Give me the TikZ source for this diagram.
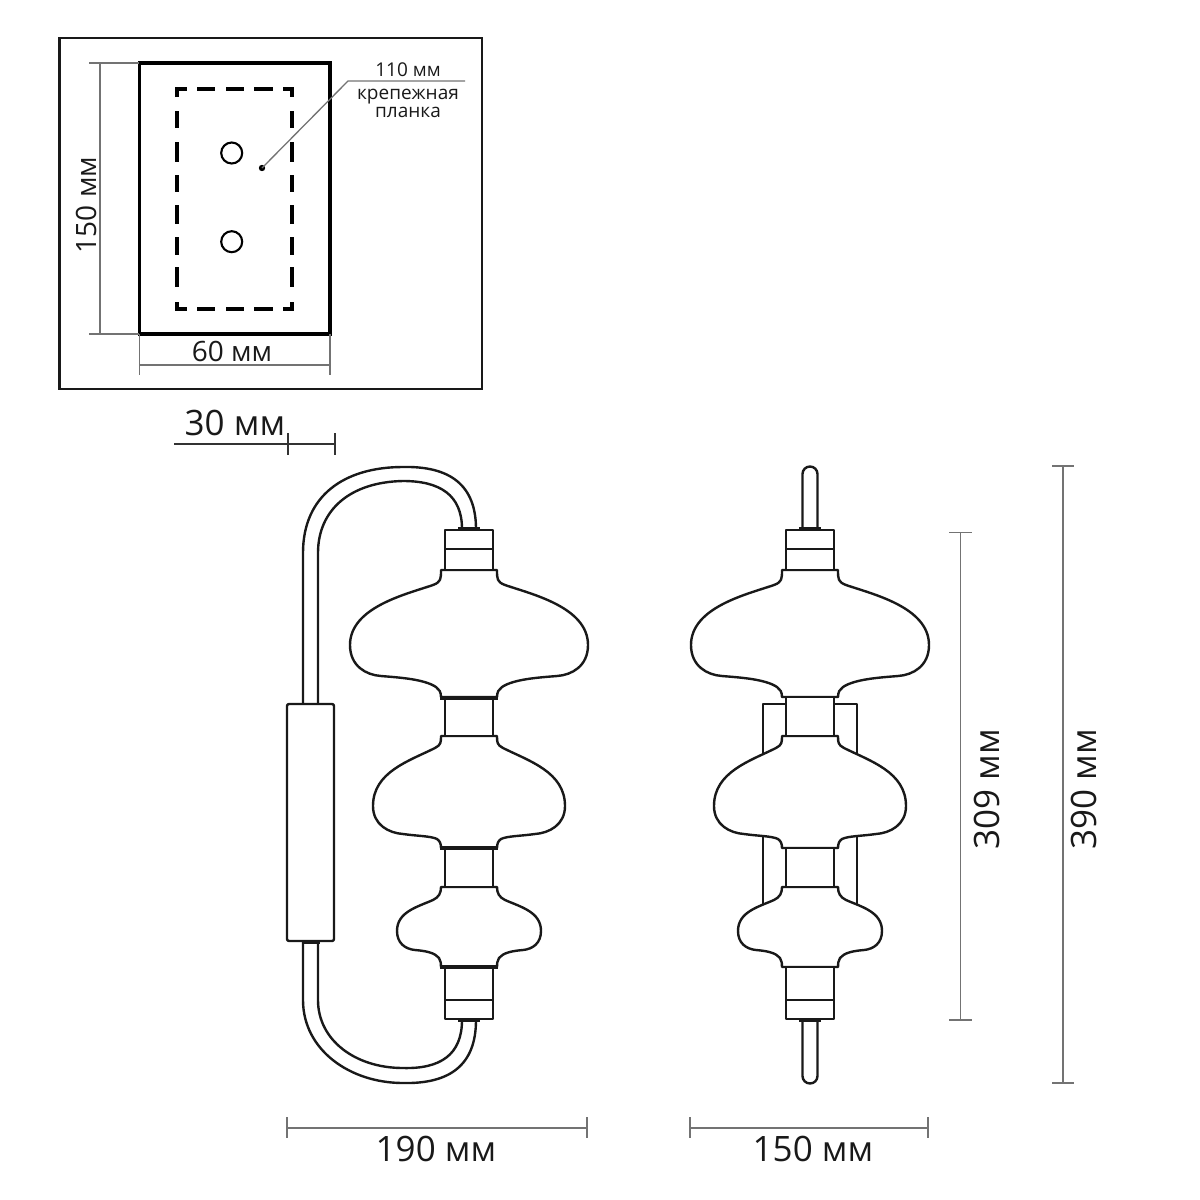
\documentclass[tikz,border=0pt]{standalone}
\usepackage{fontspec}
\setmainfont{Open Sans}
\tikzset{
  ink/.style={line width=2.4pt,draw=black!90,line join=round},
  heavy/.style={line width=4pt,draw=black!90},
  dimline/.style={line width=1.3pt,draw=black!55},
  dimtext/.style={inner sep=0pt,font=\fontsize{35}{35}\selectfont,text=black!90},
  smalltext/.style={inner sep=0pt,font=\fontsize{19}{19}\selectfont,text=black!90},
  midtext/.style={inner sep=0pt,font=\fontsize{28}{28}\selectfont,text=black!90},
  dashseg/.style={line width=3.1pt,draw=black}
}
\newcommand{\lampbody}{%
  \filldraw[ink,fill=white] (-28,570) .. controls (-28,579) and (-28,582) .. (-36,585)
    .. controls (-62,594) and (-119,607) .. (-119,645)
    .. controls (-119,666) and (-103,675) .. (-88,676)
    .. controls (-70,677.5) and (-45,679) .. (-33,687)
    .. controls (-30,689) and (-28,692) .. (-28,697) -- (28,697)
    .. controls (28,692) and (30,689) .. (33,687)
    .. controls (45,679) and (70,677.5) .. (88,676)
    .. controls (103,675) and (119,666) .. (119,645)
    .. controls (119,607) and (62,594) .. (36,585)
    .. controls (28,582) and (28,579) .. (28,570) -- cycle;
  \filldraw[ink,fill=white] (-28,736) .. controls (-28,742) and (-28,745) .. (-34,748)
    .. controls (-60,761) and (-96,772) .. (-96,806)
    .. controls (-96,825) and (-80,833) .. (-66,834)
    .. controls (-52,836) and (-38,836) .. (-32,839)
    .. controls (-29,841) and (-28,844) .. (-28,848) -- (28,848)
    .. controls (28,844) and (29,841) .. (32,839)
    .. controls (38,836) and (52,836) .. (66,834)
    .. controls (80,833) and (96,825) .. (96,806)
    .. controls (96,772) and (60,761) .. (34,748)
    .. controls (28,745) and (28,742) .. (28,736) -- cycle;
  \filldraw[ink,fill=white] (-28,887) .. controls (-28,893) and (-30,897) .. (-36,900)
    .. controls (-52,907) and (-72,912) .. (-72,931)
    .. controls (-72,943) and (-64,949) .. (-54,950)
    .. controls (-42,951) and (-34,953) .. (-30,958)
    .. controls (-28,961) and (-28,964) .. (-28,967) -- (28,967)
    .. controls (28,964) and (28,961) .. (30,958)
    .. controls (34,953) and (42,951) .. (54,950)
    .. controls (64,949) and (72,943) .. (72,931)
    .. controls (72,912) and (52,907) .. (36,900)
    .. controls (30,897) and (28,893) .. (28,887) -- cycle;
  \filldraw[ink,fill=white] (-24,530) rectangle (24,570);
  \draw[ink] (-24,549) -- (24,549);
  \filldraw[ink,fill=white] (-24,697) rectangle (24,736);
  \filldraw[ink,fill=white] (-24,848) rectangle (24,887);
  \filldraw[ink,fill=white] (-24,967) rectangle (24,1019);
  \draw[ink] (-24,1000) -- (24,1000);
}
\begin{document}
\begin{tikzpicture}[x=1pt,y=-1pt]
\useasboundingbox (0,0) rectangle (1200,1200);
% --- mounting plate inset
\draw[line width=2.6pt,draw=black!90] (59.5,38) rectangle (482,389);
\draw[line width=3.6pt,draw=black] (139.5,63) rectangle (330,334);
% dashed bar
\draw[dashseg] (177,97) -- (177,89) -- (187,89);
\draw[dashseg] (283,89) -- (292,89) -- (292,97);
\draw[dashseg] (177,302) -- (177,309) -- (187,309);
\draw[dashseg] (283,309) -- (292,309) -- (292,302);
\foreach \a/\b in {197/215,226/244,254/273}{
  \draw[dashseg] (\a,89) -- (\b,89);
  \draw[dashseg] (\a,309) -- (\b,309);
}
\foreach \a/\b in {111/128,142/162,175/192,205/224,237/255,267/287}{
  \draw[dashseg] (177,\a) -- (177,\b);
  \draw[dashseg] (292,\a) -- (292,\b);
}
\draw[line width=2.1pt] (231.7,153) circle (10.5);
\draw[line width=2.1pt] (231.7,241.7) circle (10.5);
\coordinate (pin) at (262,168);
\coordinate (elbow) at (348,81);
\coordinate (lead) at (465,81);
\fill[black] (pin) circle (3.2);
\draw[dimline] (pin) -- (elbow) -- (lead);
\node[smalltext] (t110) at (408,70) {110 мм};
\node[smalltext,align=center] (tk1) at (408,97) {крепежная};
\node[smalltext,align=center] (tk2) at (408,112) {планка};
% inset dims
\draw[dimline] (100,63) -- (100,334);
\draw[dimline] (89,63) -- (139,63);
\draw[dimline] (89,334) -- (139,334);
\draw[dimline] (139.5,365) -- (330,365);
\draw[dimline] (139.5,334) -- (139.5,375);
\draw[dimline] (330,334) -- (330,375);
\node[midtext,rotate=90] (t150a) at (86,205) {150 мм};
\node[midtext] (t60) at (232,351) {60 мм};
% 30 mm
\draw[line width=1.3pt,draw=black!80] (174,444) -- (335,444);
\draw[line width=1.3pt,draw=black!80] (288,433) -- (288,455);
\draw[line width=1.3pt,draw=black!80] (335,433) -- (335,455);
\node[dimtext] (t30) at (235,423) {30 мм};
% --- side lamp tube
\draw[ink] (303,704) -- (303,553) .. controls (303,495) and (345,467) .. (403,467)
  .. controls (450,466) and (476,485) .. (476,529);
\draw[ink] (318,704) -- (318,553) .. controls (318,510) and (350,482) .. (403,481)
  .. controls (440,481) and (462,495) .. (462,529);
\draw[ink] (303,942) -- (303,1000) .. controls (303,1050) and (350,1083) .. (403,1083)
  .. controls (450,1084) and (476,1065) .. (476,1020);
\draw[ink] (318,942) -- (318,1000) .. controls (318,1040) and (355,1068) .. (403,1068)
  .. controls (440,1069) and (462,1055) .. (462,1020);
\draw[ink,rounded corners=2pt] (287,704) rectangle (334,941);
\begin{scope}[shift={(469,0)}]
  \lampbody
  \draw[heavy] (-29,697.5) -- (29,697.5);
  \draw[heavy] (-29,848) -- (29,848);
  \draw[heavy] (-29,967) -- (29,967);
  \draw[heavy] (-11,529) -- (11,529);
  \draw[heavy] (-11,1020) -- (11,1020);
\end{scope}
\draw[heavy] (302,942) -- (320,942);
% --- front lamp
\draw[ink] (802.5,530) -- (802.5,474) arc[start angle=180,end angle=360,radius=7.5] -- (817.5,530);
\draw[ink] (802.5,1020) -- (802.5,1076) arc[start angle=180,end angle=0,radius=7.5] -- (817.5,1020);
\draw[ink] (786,704) -- (763,704) -- (763,930);
\draw[ink] (834,704) -- (857,704) -- (857,930);
\begin{scope}[shift={(810,0)}]
  \lampbody
  \draw[heavy] (-11,529) -- (11,529);
  \draw[heavy] (-11,1020) -- (11,1020);
\end{scope}
% --- outer dims
\draw[dimline] (287,1128) -- (587,1128);
\draw[dimline] (287,1117) -- (287,1138);
\draw[dimline] (587,1117) -- (587,1138);
\node[dimtext] (t190) at (436,1149) {190 мм};
\draw[dimline] (690,1128) -- (928,1128);
\draw[dimline] (690,1117) -- (690,1138);
\draw[dimline] (928,1117) -- (928,1138);
\node[dimtext] (t150b) at (813,1149) {150 мм};
\draw[dimline] (960.5,532.5) -- (960.5,1020);
\draw[dimline] (949,532.5) -- (972,532.5);
\draw[dimline] (949,1020) -- (972,1020);
\node[dimtext,rotate=90] (t309) at (987,789) {309 мм};
\draw[dimline] (1063,466) -- (1063,1083);
\draw[dimline] (1052,466) -- (1074,466);
\draw[dimline] (1052,1083) -- (1074,1083);
\node[dimtext,rotate=90] (t390) at (1084,789) {390 мм};
\end{tikzpicture}
\end{document}
